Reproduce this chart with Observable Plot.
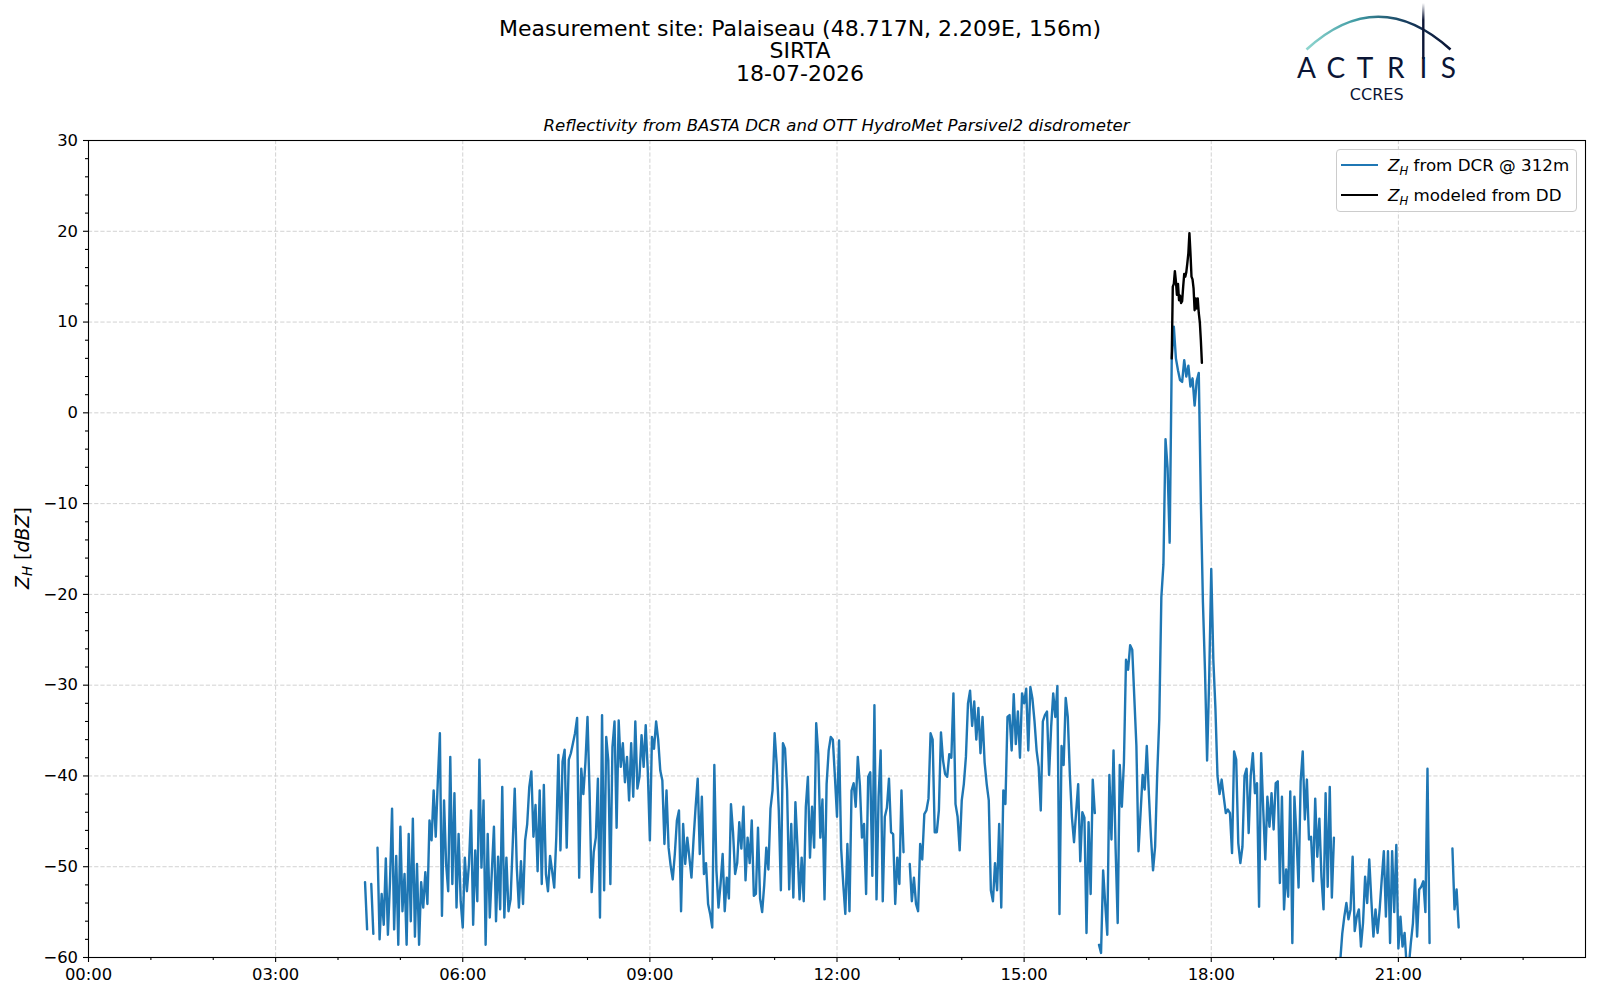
<!DOCTYPE html>
<html>
<head>
<meta charset="utf-8">
<script src="https://cdn.jsdelivr.net/npm/d3@7"></script>
<script src="https://cdn.jsdelivr.net/npm/@observablehq/plot@0.6"></script>
<style>
  body { margin: 0; background: #fff; font-family: "DejaVu Sans", sans-serif; }
  #wrap { position: relative; width: 1600px; height: 1000px; overflow: hidden; background: #fff; }
  #chart { position: absolute; left: 0; top: 0; }
  .title { position: absolute; left: 0; top: 18px; width: 1600px; text-align: center;
           font-size: 22px; line-height: 22.3px; color: #000; }
  .subtitle { position: absolute; left: 88px; top: 116px; width: 1497px; text-align: center;
              font-size: 16.6px; line-height: 20px; font-style: italic; color: #000; }
  .ylabel { position: absolute; left: 23px; top: 548px; transform: translate(-50%, -50%) rotate(-90deg);
            white-space: nowrap; font-size: 19px; color: #000; }
  .ylabel sub, .legend sub { font-size: 0.7em; vertical-align: -0.3em; }
  .legend { position: absolute; left: 1336px; top: 149px; width: 241px; height: 63px;
            border: 1px solid #cccccc; border-radius: 4px; background: rgba(255,255,255,0.85);
            font-size: 16.7px; color: #000; box-sizing: border-box; }
  .legend .row { position: absolute; left: 0; height: 22px; line-height: 22px; white-space: nowrap; }
  .legend .sw { position: absolute; left: 4px; top: 10px; width: 37px; height: 2.4px; }
  .legend .tx { position: absolute; left: 51px; top: 0; }
</style>
</head>
<body>
<div id="wrap">
  <div class="title">Measurement site: Palaiseau (48.717N, 2.209E, 156m)<br>SIRTA<br>18-07-2026</div>
  <div class="subtitle">Reflectivity from BASTA DCR and OTT HydroMet Parsivel2 disdrometer</div>
  <div class="ylabel"><i>Z</i><sub><i>H</i></sub> [<i>dBZ</i>]</div>
  <svg id="logo" width="190" height="110" style="position:absolute;left:1290px;top:0;" xmlns="http://www.w3.org/2000/svg">
    <defs>
      <linearGradient id="arcg" x1="0" x2="1" y1="0" y2="0">
        <stop offset="0" stop-color="#8fd6cf"/>
        <stop offset="0.35" stop-color="#3f9aa3"/>
        <stop offset="0.7" stop-color="#163a5c"/>
        <stop offset="1" stop-color="#0b1535"/>
      </linearGradient>
      <linearGradient id="barg" x1="0" x2="0" y1="0" y2="1">
        <stop offset="0" stop-color="#ffffff"/>
        <stop offset="0.3" stop-color="#0b1535"/>
        <stop offset="1" stop-color="#0b1535"/>
      </linearGradient>
    </defs>
    <path d="M 16.5 49.5 Q 88 -16 160.5 49.5" fill="none" stroke="url(#arcg)" stroke-width="2.6"/>
    <rect x="132.1" y="3" width="2.4" height="56" fill="url(#barg)"/>
    <text y="77.5" text-anchor="middle" font-family="Lato, 'DejaVu Sans', sans-serif" font-size="28" fill="#0b1535"><tspan x="16.5">A</tspan><tspan x="45.8">C</tspan><tspan x="75">T</tspan><tspan x="105.8">R</tspan><tspan x="133.3">I</tspan><tspan x="158.3">S</tspan></text>
    <text x="86.7" y="100" text-anchor="middle" font-family="'DejaVu Sans', sans-serif" font-size="16" fill="#0b1535">CCRES</text>
  </svg>
  <div class="legend">
    <div class="row" style="top:4px;"><div class="sw" style="background:#1f77b4;"></div><div class="tx"><i>Z</i><sub><i>H</i></sub> from DCR @ 312m</div></div>
    <div class="row" style="top:34px;"><div class="sw" style="background:#000;"></div><div class="tx"><i>Z</i><sub><i>H</i></sub> modeled from DD</div></div>
  </div>
</div>
<script>
// ---------------- data ----------------
// Z_H from BASTA DCR @ 312 m, one value every 2 minutes from 04:24 (null = no data)
const dcrStartHour = 4 + 24 / 60;
const dcrStepMin = 2;
const dcrZh = [
  /* 04:24 */ null,-51.7,-56.9,null,-51.9,-57.4,null,-47.9,-58.0,-53.0,-56.4,-49.1,-57.5,-51.7,-43.6,-56.9,-48.8,-58.6,
  /* 05:00 */ -45.6,-54.9,-50.8,-58.6,-46.4,-56.0,-44.7,-57.7,-49.7,-58.6,-51.7,-54.5,-50.6,-54.1,-44.9,-47.1,-41.6,-46.7,-40.6,-35.3,-55.4,-42.7,-49.7,-52.7,-37.9,-51.9,-41.9,-54.5,-46.4,-53.8,
  /* 06:00 */ -56.7,-49.0,-52.7,-49.7,-43.8,-56.4,-48.2,-53.8,-38.2,-50.1,-42.7,-58.6,-46.4,-55.6,-50.5,-45.6,-56.0,-48.9,-54.7,-41.2,-55.6,-49.0,-54.9,-53.6,-47.7,-41.4,-50.1,-54.5,-49.4,-54.1,
  /* 07:00 */ -47.1,-45.3,-41.2,-39.5,-46.7,-43.2,-50.5,-41.6,-51.9,-41.0,-50.8,-52.7,-48.8,-50.5,-52.3,-46.7,-37.7,-48.2,-38.4,-37.1,-47.9,-38.2,-37.5,-36.4,-35.3,-33.6,-51.2,-39.2,-42.0,-38.5,
  /* 08:00 */ -33.5,-41.8,-52.8,-48.4,-46.8,-40.3,-55.6,-33.3,-52.6,-35.7,-38.3,-51.9,-36.8,-34.0,-45.7,-33.9,-39.0,-36.4,-40.7,-37.9,-42.7,-36.4,-42.3,-34.0,-41.4,-40.1,-35.5,-39.0,-34.4,-39.5,
  /* 09:00 */ -47.1,-35.7,-37.0,-34.0,-36.0,-39.4,-40.5,-47.5,-41.6,-47.9,-49.9,-51.4,-48.6,-44.9,-43.8,-54.9,-45.3,-49.7,-46.8,-49.0,-51.2,-47.0,-43.4,-40.3,-48.6,-42.3,-50.8,-49.6,-54.1,-55.2,
  /* 10:00 */ -56.7,-38.8,-50.4,-54.5,-51.9,-48.6,-54.9,-51.2,-53.5,-43.1,-46.2,-50.8,-49.6,-45.1,-48.0,-43.4,-51.5,-46.8,-49.6,-44.9,-53.2,-53.0,-45.7,-53.5,-55.0,-52.0,-47.9,-50.3,-43.6,-41.6,
  /* 11:00 */ -35.3,-38.7,-43.8,-52.6,-36.4,-37.0,-41.6,-52.5,-45.3,-53.4,-42.9,-47.9,-53.6,-49.0,-53.8,-43.4,-40.1,-49.0,-43.4,-47.9,-34.2,-37.6,-46.8,-42.6,-53.6,-40.9,-37.2,-35.7,-36.0,-40.1,
  /* 12:00 */ -44.5,-36.1,-48.0,-51.9,-55.2,-47.5,-54.9,-41.6,-40.8,-43.4,-37.9,-41.0,-46.8,-45.3,-53.0,-40.1,-39.6,-51.0,-32.2,-53.6,-42.3,-37.2,-53.8,-44.5,-43.5,-40.3,-46.2,-46.4,-54.1,-49.0,
  /* 13:00 */ -51.9,-41.6,-48.4,null,null,-49.7,-53.8,-51.2,-54.1,-54.9,-47.5,-49.2,-44.2,-43.8,-42.5,-35.3,-36.0,-46.2,-46.2,-43.8,-35.2,-38.3,-39.8,-40.1,-37.6,-38.0,-30.9,-43.1,-44.5,-48.2,
  /* 14:00 */ -42.7,-40.9,-37.9,-32.0,-30.6,-34.5,-31.8,-36.0,-32.5,-37.5,-33.5,-38.5,-40.9,-42.7,-52.6,-53.8,-49.6,-52.6,-45.3,-54.5,-41.6,-43.1,-33.5,-33.3,-37.2,-31.0,-36.5,-32.9,-38.0,-30.9,
  /* 15:00 */ -32.0,-30.4,-37.2,-30.2,-31.5,-34.0,-37.2,-39.0,-43.8,-34.0,-33.3,-32.9,-39.9,-34.6,-30.9,-33.5,-30.1,-55.2,-36.7,-38.8,-31.4,-33.5,-39.9,-44.6,-47.3,-44.0,-40.9,-49.4,-44.0,-44.6,
  /* 16:00 */ -57.3,-45.1,-53.0,-40.4,-44.1,null,-58.6,-59.5,-50.4,-54.1,-57.5,-39.9,-47.0,-37.2,-48.0,-56.2,-38.8,-43.4,-38.5,-27.2,-28.3,-25.6,-26.1,-31.4,-36.7,-48.3,-44.1,-39.9,-41.5,-36.7,
  /* 17:00 */ -42.0,-46.7,-50.4,-47.8,-39.9,-33.8,-20.3,-16.7,-2.9,-6.1,-14.3,6.0,9.5,6.0,4.7,3.6,3.4,5.8,4.0,5.2,2.9,3.8,0.8,3.5,4.4,-9.8,-20.9,-28.5,-38.3,-29.3,
  /* 18:00 */ -17.2,-27.2,-32.5,-40.0,-42.0,-40.4,-42.3,-44.1,-43.7,-44.1,-48.5,-37.3,-38.2,-47.4,-49.6,-47.8,-40.0,-39.2,-46.3,-39.9,-37.5,-41.9,-40.8,-54.4,-37.5,-43.7,-49.2,-42.3,-45.6,-41.9,
  /* 19:00 */ -45.9,-40.8,-40.6,-51.8,-42.3,-54.7,-50.3,-53.3,-41.7,-58.4,-42.3,-46.7,-52.3,-40.6,-37.3,-44.8,-40.4,-47.0,-46.7,-51.6,-42.5,-48.9,-44.7,-51.1,-54.7,-41.9,-52.2,-41.2,-53.4,-46.8,
  /* 20:00 */ null,null,-60.5,-57.4,-55.5,-54.0,-55.8,-54.7,-48.9,-57.1,-55.5,-54.7,-58.8,-56.2,-51.1,-54.0,-49.2,-53.7,-57.7,-54.7,-57.3,-54.7,-51.4,-48.3,-55.5,-48.3,-58.4,-48.3,-55.0,-47.6,
  /* 21:00 */ -59.0,-55.5,-58.8,-57.3,-61.0,-61.0,-58.4,-56.2,-51.4,-57.7,-52.5,-52.2,-51.6,-55.0,-39.2,-58.4,null,null,null,null,null,null,null,null,null,null,-48.0,-54.7,-52.5,-56.7
];

// Z_H modeled from the Parsivel2 disdrometer, one value per minute from 17:22
const ddStartHour = 17 + 22 / 60;
const ddStepMin = 1;
const ddZh = [6.0,13.9,14.2,15.6,14.5,13.0,14.2,12.4,12.9,12.1,12.3,13.9,15.3,15.0,15.5,16.5,17.6,19.8,17.6,15.0,14.7,13.7,11.3,12.6,11.5,12.6,11.0,10.0,8.0,5.5];

// axis ticks
const xMajorTicks = [0, 3, 6, 9, 12, 15, 18, 21];
const xTickLabels = ["00:00", "03:00", "06:00", "09:00", "12:00", "15:00", "18:00", "21:00"];
const yMajorTicks = [30, 20, 10, 0, -10, -20, -30, -40, -50, -60];

// ---------------- build ----------------
const dcr = dcrZh.map((v, i) => ({ h: dcrStartHour + i * dcrStepMin / 60, zh: v }));
const dd = ddZh.map((v, i) => ({ h: ddStartHour + i * ddStepMin / 60, zh: v }));
const xMinor = d3.range(0, 25).filter(h => h % 3 !== 0);
const yMinor = d3.range(-60, 31, 2).filter(v => v % 10 !== 0);
const yFmt = d => (d < 0 ? "\u2212" + Math.abs(d) : String(d));
const xFmt = d => xTickLabels[xMajorTicks.indexOf(d)];
const gridStyle = { stroke: "#d2d2d2", strokeOpacity: 1, strokeWidth: 1, strokeDasharray: "4.2,2" };

const chart = Plot.plot({
  width: 1600,
  height: 1000,
  marginLeft: 88,
  marginRight: 15,
  marginTop: 140,
  marginBottom: 43,
  style: { fontFamily: "DejaVu Sans", fontSize: "16.4px", color: "#000", background: "transparent" },
  x: { domain: [0, 24] },
  y: { domain: [-60, 30] },
  marks: [
    Plot.gridX(xMajorTicks, gridStyle),
    Plot.gridY(yMajorTicks, gridStyle),
    Plot.line(dcr, { x: "h", y: "zh", stroke: "#1f77b4", strokeWidth: 2.4, clip: true }),
    Plot.line(dd, { x: "h", y: "zh", stroke: "#000000", strokeWidth: 2.4, clip: true }),
    Plot.frame({ stroke: "#000", strokeWidth: 1.1 }),
    Plot.axisX(xMajorTicks, { tickSize: 5, tickPadding: 6, tickFormat: xFmt, label: null, strokeWidth: 1.1 }),
    Plot.axisX(xMinor, { tickSize: 3, tickFormat: () => "", label: null, strokeWidth: 1.1 }),
    Plot.axisY(yMajorTicks, { tickSize: 5, tickPadding: 5.5, tickFormat: yFmt, label: null, strokeWidth: 1.1 }),
    Plot.axisY(yMinor, { tickSize: 3, tickFormat: () => "", label: null, strokeWidth: 1.1 })
  ]
});
chart.id = "chart";
document.getElementById("wrap").prepend(chart);
</script>
</body>
</html>
